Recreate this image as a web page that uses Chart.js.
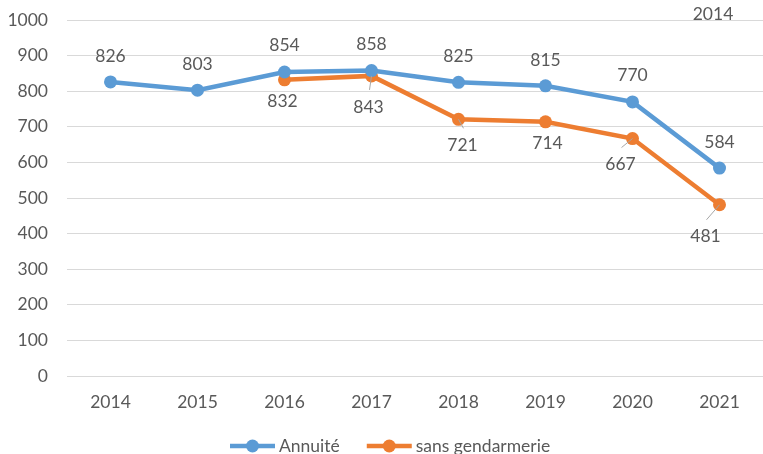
<!DOCTYPE html>
<html>
<head>
<meta charset="utf-8">
<script src="https://cdn.jsdelivr.net/npm/chart.js@4/dist/chart.umd.min.js"></script>
<style>
  html, body { margin: 0; padding: 0; background: #fff; }
  #wrap { width: 763px; height: 454px; }
</style>
</head>
<body>
<div id="wrap"><canvas id="c" width="763" height="454"></canvas></div>
<script>
// ---- data ----
const years = ['2014', '2015', '2016', '2017', '2018', '2019', '2020', '2021'];
const annuite = [826, 803, 854, 858, 825, 815, 770, 584];
const sansGendarmerie = [null, null, 832, 843, 721, 714, 667, 481];
const seriesNames = ['Annuité', 'sans gendarmerie'];
const yTicks = [0, 100, 200, 300, 400, 500, 600, 700, 800, 900, 1000];
const strayTitle = '2014';

// ---- styles ----
const BLUE = '#5B9BD5';
const ORANGE = '#ED7D31';
const TEXT = '#595959';
const GRID = '#D9D9D9';
const FONT = 'Lato, "Open Sans", sans-serif';
const FSIZE = 17.5;

// label offsets (pixels) relative to the point, per series
const labelOffsets = [
  [[0,-26],[0,-26],[0,-27],[0,-26],[0,-26],[0,-26],[0,-27],[0,-26]],
  [null,null,[-2,22],[-3,31],[4,26],[2,22],[-12,26],[-14,32]]
];
const leaderFlags = [
  [false,false,false,false,false,false,false,false],
  [false,false,false,true,true,false,true,true]
];

Chart.defaults.font.family = FONT;
Chart.defaults.font.size = FSIZE;
Chart.defaults.color = TEXT;

const labelsPlugin = {
  id: 'customLabels',
  afterDatasetsDraw(chart) {
    const ctx = chart.ctx;
    ctx.save();
    ctx.font = FSIZE + 'px ' + FONT;
    ctx.fillStyle = TEXT;
    ctx.textAlign = 'center';
    ctx.textBaseline = 'middle';
    chart.data.datasets.forEach((ds, di) => {
      const meta = chart.getDatasetMeta(di);
      meta.data.forEach((pt, i) => {
        const v = ds.data[i];
        if (v === null || v === undefined) return;
        const off = labelOffsets[di][i] || [0, -26];
        const lx = pt.x + off[0], ly = pt.y + off[1];
        if (leaderFlags[di][i]) {
          ctx.strokeStyle = '#A6A6A6';
          ctx.lineWidth = 1;
          ctx.beginPath();
          ctx.moveTo(pt.x, pt.y);
          ctx.lineTo(lx + 1, ly - 17);
          ctx.stroke();
        }
        ctx.fillText(String(v), lx, ly);
      });
    });
    // stray title text
    ctx.fillText(strayTitle, 713, 14);

    // legend
    const ly = 446;
    let x = 230;
    const colors = [BLUE, ORANGE];
    ctx.textAlign = 'left';
    seriesNames.forEach((name, k) => {
      ctx.strokeStyle = colors[k];
      ctx.lineWidth = 4.5;
      ctx.beginPath();
      ctx.moveTo(x, ly);
      ctx.lineTo(x + 45, ly);
      ctx.stroke();
      ctx.fillStyle = colors[k];
      ctx.beginPath();
      ctx.arc(x + 22.5, ly, 6.5, 0, Math.PI * 2);
      ctx.fill();
      ctx.fillStyle = TEXT;
      ctx.fillText(name, x + 49, ly);
      x += 49 + ctx.measureText(name).width + 27;
    });
    ctx.restore();
  }
};

function zeroPad(scale) {
  scale.paddingTop = 0;
  scale.paddingBottom = 0;
  scale.paddingLeft = 0;
  scale.paddingRight = 0;
}

new Chart(document.getElementById('c'), {
  type: 'line',
  data: {
    labels: years,
    datasets: [
      {
        label: seriesNames[0],
        data: annuite,
        borderColor: BLUE,
        backgroundColor: BLUE,
        borderWidth: 4.5,
        pointRadius: 6.5,
        pointHoverRadius: 6.5,
        pointBorderWidth: 0,
        tension: 0,
        spanGaps: false,
        clip: false
      },
      {
        label: seriesNames[1],
        data: sansGendarmerie,
        borderColor: ORANGE,
        backgroundColor: ORANGE,
        borderWidth: 4.5,
        pointRadius: 6.5,
        pointHoverRadius: 6.5,
        pointBorderWidth: 0,
        tension: 0,
        spanGaps: false,
        clip: false
      }
    ]
  },
  options: {
    responsive: false,
    animation: false,
    devicePixelRatio: 1,
    layout: { autoPadding: false, padding: { top: 20, right: -5, left: 0, bottom: 28 } },
    plugins: {
      legend: { display: false },
      tooltip: { enabled: false },
      title: { display: false }
    },
    scales: {
      x: {
        offset: true,
        grid: { display: false, drawTicks: false },
        border: { display: false },
        ticks: { padding: 16, color: TEXT, maxRotation: 0, autoSkip: false },
        afterFit(scale) { scale.height = 50; zeroPad(scale); }
      },
      y: {
        min: 0,
        max: 1000,
        afterBuildTicks(scale) { scale.ticks = yTicks.map(v => ({ value: v })); },
        grid: { color: GRID, lineWidth: 1, drawTicks: false },
        border: { display: false },
        ticks: { padding: 19, color: TEXT, callback: (v) => String(v) },
        afterFit(scale) { scale.width = 67; zeroPad(scale); }
      }
    }
  },
  plugins: [labelsPlugin]
});
</script>
</body>
</html>
